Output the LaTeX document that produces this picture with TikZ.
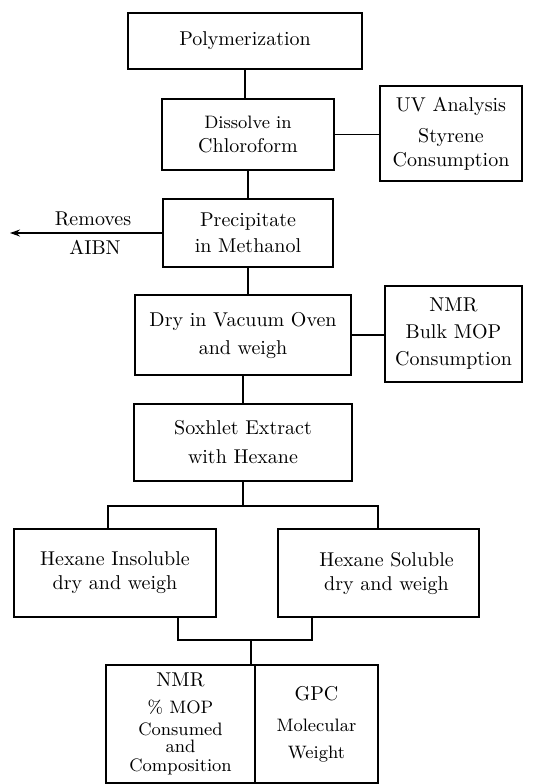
\documentclass[tikz,border=0pt]{standalone}
\usetikzlibrary{arrows.meta}

\tikzset{
  box/.style={draw,align=center,inner sep=0pt,line width=0.55pt},
  link/.style={line width=0.55pt},
}

\begin{document}
\begin{tikzpicture}[x=0.5pt,y=-0.5pt,>={Stealth[length=5pt,width=3.5pt]}]
        \useasboundingbox (0,0) rectangle (555,784);
        % main column
        \node[box,minimum width=117pt,minimum height=28pt] (poly) at (245,41) {Polymerization};
        \node[box,minimum width=86pt,minimum height=35.5pt] (diss) at (248,134.5) {{\small Dissolve in}\\Chloroform};
        \node[box,minimum width=85pt,minimum height=34pt] (prec) at (248,233) {Precipitate\\[1pt]in Methanol};
        \node[box,minimum width=108pt,minimum height=40pt] (dry) at (243,335) {Dry in Vacuum Oven\\[2pt]and weigh};
        \node[box,minimum width=109pt,minimum height=38.5pt] (sox) at (243,442.5) {Soxhlet Extract\\[2.5pt]with Hexane};
        % side analyses
        \node[box,minimum width=71pt,minimum height=47.5pt] (uv) at (451,133.5) {UV Analysis\\[3.5pt]Styrene\\Consumption};
        \node[box,minimum width=68.5pt,minimum height=48pt] (nmrbulk) at (453.5,334) {NMR\\[1.5pt]Bulk MOP\\[1.5pt]Consumption};
        \coordinate (out) at (10,232);
        \node (removes) at (93,219) {Removes};
        \node (aibn) at (95,247) {AIBN};
        % fractions
        \node[box,minimum width=101pt,minimum height=44pt] (insol) at (115,573) {Hexane Insoluble\\dry and weigh};
        \node[box,minimum width=100.5pt,minimum height=44pt] (sol) at (378.5,573) {\hspace*{8pt}Hexane Soluble\\\hspace*{8pt}dry and weigh};
        \node[box,font=\small,minimum width=74.5pt,minimum height=59pt] (nmrcomp) at (180.5,724) {{\normalsize NMR}\\[2.5pt]\% MOP\\Consumed\\[-2.5pt]and\\[-1.5pt]Composition};
        \node[box,font=\small,minimum width=61.5pt,minimum height=59pt] (gpc) at (316.5,724) {{\normalsize GPC}\\[4.5pt]Molecular\\[2.5pt]Weight};
        % connectors
        \draw[link] (poly.south) -- (poly.south |- diss.north);
        \draw[link] (diss.east) -- (diss.east -| uv.west);
        \draw[link] (diss.south) -- (diss.south |- prec.north);
        \draw[link,->] (prec.west) -- (prec.west -| out);
        \draw[link] (prec.south) -- (prec.south |- dry.north);
        \draw[link] (dry.east) -- (dry.east -| nmrbulk.west);
        \draw[link] (dry.south) -- (dry.south |- sox.north);
        \coordinate (barL) at (108,506);
        \coordinate (barR) at (378,506);
        \draw[link] (sox.south) -- (sox.south |- barL);
        \draw[link] (barL |- insol.north) -- (barL) -- (barR) -- (barR |- sol.north);
        \coordinate (mergeL) at (178,640);
        \coordinate (mergeR) at (312,640);
        \coordinate (join) at (251,640);
        \draw[link] (mergeL |- insol.south) -- (mergeL) -- (mergeR) -- (mergeR |- sol.south);
        \draw[link] (join) -- (join |- nmrcomp.north);
\end{tikzpicture}
\end{document}
